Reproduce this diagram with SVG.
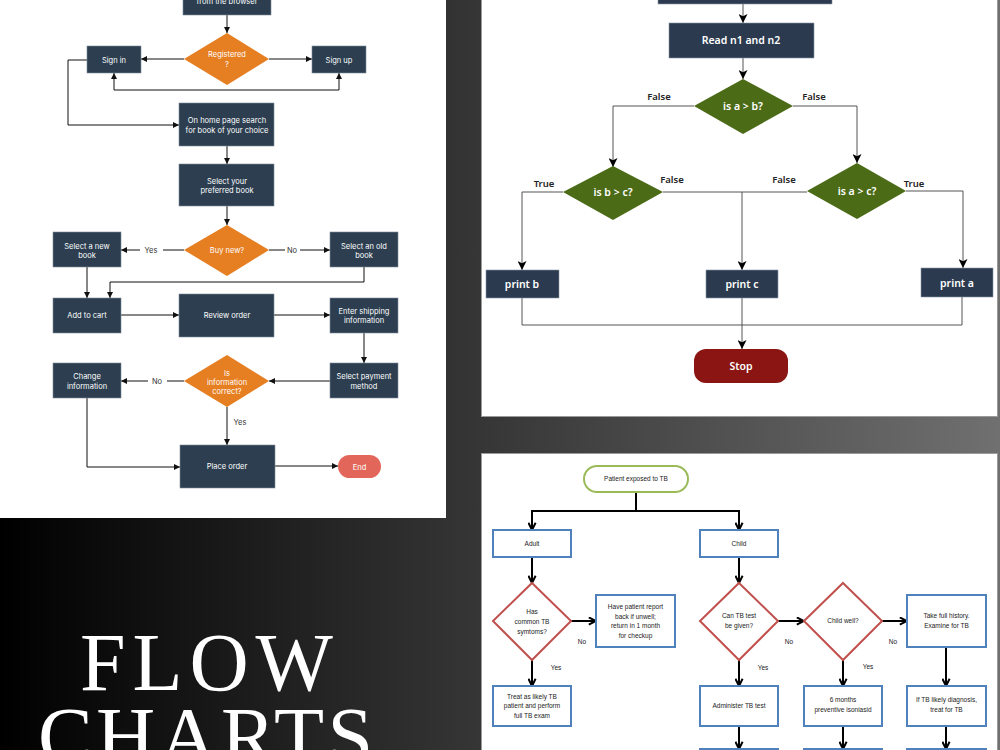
<svg xmlns="http://www.w3.org/2000/svg" width="1000" height="750" viewBox="0 0 1000 750">
<defs>
<linearGradient id="bg" x1="0" y1="0" x2="1" y2="0">
<stop offset="0" stop-color="#000"/>
<stop offset="1" stop-color="#707070"/>
</linearGradient>
<marker id="aL" viewBox="0 0 10 10" refX="10" refY="5" markerWidth="6" markerHeight="6" markerUnits="userSpaceOnUse" orient="auto"><path d="M0,0 L10,5 L0,10 z" fill="#111"/></marker>
<marker id="aR" viewBox="0 0 10 10" refX="10" refY="5" markerWidth="9" markerHeight="9" markerUnits="userSpaceOnUse" orient="auto"><path d="M0,0 L10,5 L0,10 L2.5,5 z" fill="#000"/></marker>
<marker id="aB" viewBox="0 0 10 10" refX="9" refY="5" markerWidth="9" markerHeight="9" markerUnits="userSpaceOnUse" orient="auto"><path d="M1,1 L9,5 L1,9" fill="none" stroke="#000" stroke-width="2.2"/></marker>
<style>
.lb{fill:#2c3e50;stroke:#7f8c9b;stroke-width:0.6}
.ld{fill:#e67e22}
.lt{font-family:Inter,"Liberation Sans",sans-serif;font-size:7.5px;fill:#fff;text-anchor:middle}
.ll{stroke:#111;stroke-width:1;fill:none}
.llab{font-family:Inter,"Liberation Sans",sans-serif;font-size:7.5px;fill:#333;text-anchor:middle}
.rb{fill:#2b3a4f;stroke:#8a96a6;stroke-width:0.6}
.rd{fill:#4b6b17}
.rt{font-family:"Noto Sans","Liberation Sans",sans-serif;font-size:10.5px;font-weight:600;fill:#fff;text-anchor:middle}
.rl{stroke:#555;stroke-width:1;fill:none}
.rlab{font-family:"Noto Sans","Liberation Sans",sans-serif;font-size:9.5px;font-weight:600;fill:#222;text-anchor:middle}
.bb{fill:#fff;stroke:#4f81bd;stroke-width:2}
.bd{fill:#fff;stroke:#c0504d;stroke-width:2}
.bt{font-family:"Liberation Sans",sans-serif;font-size:6.5px;fill:#222;text-anchor:middle}
.bl{stroke:#000;stroke-width:2;fill:none}
.big{font-family:"Liberation Serif",serif;font-size:82px;fill:#fff}
</style>
</defs>
<rect x="0" y="0" width="1000" height="750" fill="url(#bg)"/>
<rect x="0" y="0" width="446" height="518" fill="#fff"/>
<rect x="481.5" y="-1" width="516" height="417.5" fill="#fff" stroke="#9a9a9a" stroke-width="1"/>
<rect x="481.5" y="453.5" width="516" height="300" fill="#fff" stroke="#9a9a9a" stroke-width="1"/>

<text class="big" x="80" y="690" textLength="253" lengthAdjust="spacing">FLOW</text>
<text class="big" x="38" y="764" textLength="335" lengthAdjust="spacing">CHARTS</text>

<!-- Left panel connectors -->
<g id="left-connectors">
<path class="ll" d="M227,15 V33" marker-end="url(#aL)"/>
<path class="ll" d="M184,59 H141" marker-end="url(#aL)"/>
<path class="ll" d="M269,59 H312" marker-end="url(#aL)"/>
<path class="ll" d="M339,90 H114 V73" marker-end="url(#aL)"/>
<path class="ll" d="M339,90 V73" marker-end="url(#aL)"/>
<path class="ll" d="M87,60 H68 V125 H179" marker-end="url(#aL)"/>
<path class="ll" d="M227,146 V164" marker-end="url(#aL)"/>
<path class="ll" d="M227,206 V225" marker-end="url(#aL)"/>
<path class="ll" d="M184,250 H163"/>
<path class="ll" d="M140,250 H121" marker-end="url(#aL)"/>
<text class="llab" x="151" y="252.5">Yes</text>
<path class="ll" d="M269,250 H285"/>
<path class="ll" d="M300,250 H330" marker-end="url(#aL)"/>
<text class="llab" x="292" y="252.5">No</text>
<path class="ll" d="M87,267 V298" marker-end="url(#aL)"/>
<path class="ll" d="M364,267 V282 H110 V298" marker-end="url(#aL)"/>
<path class="ll" d="M121,315 H179" marker-end="url(#aL)"/>
<path class="ll" d="M274,315 H330" marker-end="url(#aL)"/>
<path class="ll" d="M364,333 V363" marker-end="url(#aL)"/>
<path class="ll" d="M330,381 H269" marker-end="url(#aL)"/>
<path class="ll" d="M184,381 H167"/>
<path class="ll" d="M148,381 H121" marker-end="url(#aL)"/>
<text class="llab" x="157" y="383.5">No</text>
<path class="ll" d="M227,407 V445" marker-end="url(#aL)"/>
<text class="llab" x="240" y="424.5">Yes</text>
<path class="ll" d="M87,398 V467 H180" marker-end="url(#aL)"/>
<path class="ll" d="M275,466 H338" marker-end="url(#aL)"/>
</g>

<!-- Left panel nodes -->
<g id="l-browser"><rect class="lb" x="183" y="-20" width="88" height="35"/><text class="lt" x="227" y="4">from the browser</text></g>
<g id="l-registered"><polygon class="ld" points="227,33 269,59 227,85 184,59"/><text class="lt" x="227" y="57">Registered</text><text class="lt" x="227" y="67">?</text></g>
<g id="l-signin"><rect class="lb" x="87" y="46" width="54" height="27"/><text class="lt" x="114" y="62.5">Sign in</text></g>
<g id="l-signup"><rect class="lb" x="312" y="46" width="54" height="27"/><text class="lt" x="339" y="62.5">Sign up</text></g>
<g id="l-home"><rect class="lb" x="179" y="103" width="95" height="43"/><text class="lt" x="227" y="123">On home page search</text><text class="lt" x="227" y="133">for book of your choice</text></g>
<g id="l-select"><rect class="lb" x="179" y="164" width="95" height="42"/><text class="lt" x="227" y="183.5">Select your</text><text class="lt" x="227" y="192.5">preferred book</text></g>
<g id="l-buynew"><polygon class="ld" points="227,225 269,250 227,276 184,250"/><text class="lt" x="227" y="252.5">Buy new?</text></g>
<g id="l-newbook"><rect class="lb" x="53" y="232" width="68" height="35"/><text class="lt" x="87" y="248.5">Select a new</text><text class="lt" x="87" y="258">book</text></g>
<g id="l-oldbook"><rect class="lb" x="330" y="232" width="68" height="35"/><text class="lt" x="364" y="248.5">Select an old</text><text class="lt" x="364" y="258">book</text></g>
<g id="l-cart"><rect class="lb" x="53" y="298" width="68" height="35"/><text class="lt" x="87" y="317.5">Add to cart</text></g>
<g id="l-review"><rect class="lb" x="179" y="294" width="95" height="43"/><text class="lt" x="227" y="317.5">Review order</text></g>
<g id="l-shipping"><rect class="lb" x="330" y="298" width="68" height="35"/><text class="lt" x="364" y="313.5">Enter shipping</text><text class="lt" x="364" y="322.5">information</text></g>
<g id="l-payment"><rect class="lb" x="330" y="363" width="68" height="35"/><text class="lt" x="364" y="378.5">Select payment</text><text class="lt" x="364" y="388.5">method</text></g>
<g id="l-correct"><polygon class="ld" points="227,355 269,381 227,407 184,381"/><text class="lt" x="227" y="375.5">Is</text><text class="lt" x="227" y="384.5">information</text><text class="lt" x="227" y="393.5">correct?</text></g>
<g id="l-change"><rect class="lb" x="53" y="363" width="68" height="35"/><text class="lt" x="87" y="378.5">Change</text><text class="lt" x="87" y="388.5">information</text></g>
<g id="l-place"><rect class="lb" x="180" y="445" width="95" height="43"/><text class="lt" x="227" y="468.5">Place order</text></g>
<g id="l-end"><rect x="338" y="455" width="43" height="23" rx="11.5" fill="#e2675a"/><text class="lt" x="359.5" y="469.5">End</text></g>

<!-- Right top connectors -->
<g id="rt-connectors">
<path class="rl" d="M743,4 V23" marker-end="url(#aR)"/>
<path class="rl" d="M743,58 V79" marker-end="url(#aR)"/>
<path class="rl" d="M694,106 H613 V167" marker-end="url(#aR)"/>
<path class="rl" d="M793,106 H857 V163" marker-end="url(#aR)"/>
<path class="rl" d="M563,192 H522 V270" marker-end="url(#aR)"/>
<path class="rl" d="M663,192 H807"/>
<path class="rl" d="M742,192 V270" marker-end="url(#aR)"/>
<path class="rl" d="M906,191 H963 V268" marker-end="url(#aR)"/>
<path class="rl" d="M522,298 V325 H962 V297"/>
<path class="rl" d="M742,298 V349" marker-end="url(#aR)"/>
<text class="rlab" x="659" y="100">False</text>
<text class="rlab" x="814" y="100">False</text>
<text class="rlab" x="544" y="187">True</text>
<text class="rlab" x="672" y="183">False</text>
<text class="rlab" x="784" y="183">False</text>
<text class="rlab" x="914" y="187">True</text>
</g>

<!-- Right top nodes -->
<g id="r-top"><rect class="rb" x="658" y="-20" width="174" height="24"/></g>
<g id="r-read"><rect class="rb" x="669" y="23" width="145" height="35"/><text class="rt" x="741" y="44">Read n1 and n2</text></g>
<g id="r-ab"><polygon class="rd" points="743,79 793,106 743,134 694,106"/><text class="rt" x="743" y="110">is a &gt; b?</text></g>
<g id="r-bc"><polygon class="rd" points="613,166 663,192 613,220 563,192"/><text class="rt" x="613" y="196">is b &gt; c?</text></g>
<g id="r-ac"><polygon class="rd" points="857,163 906,191 857,219 807,191"/><text class="rt" x="857" y="195">is a &gt; c?</text></g>
<g id="r-printb"><rect class="rb" x="486" y="270" width="73" height="28"/><text class="rt" x="522" y="288">print b</text></g>
<g id="r-printc"><rect class="rb" x="706" y="270" width="72" height="28"/><text class="rt" x="742" y="288">print c</text></g>
<g id="r-printa"><rect class="rb" x="921" y="268" width="72" height="29"/><text class="rt" x="957" y="287">print a</text></g>
<g id="r-stop"><rect x="694" y="349" width="94" height="34" rx="12" fill="#8a1512"/><text class="rt" x="741" y="370">Stop</text></g>

<!-- Bottom right connectors -->
<g id="b-connectors">
<path class="bl" d="M636,492 V511"/>
<path class="bl" d="M531,511 H740"/>
<path class="bl" d="M532,511 V530" marker-end="url(#aB)"/>
<path class="bl" d="M739,511 V530" marker-end="url(#aB)"/>
<path class="bl" d="M532,557 V583" marker-end="url(#aB)"/>
<path class="bl" d="M571,621 H596" marker-end="url(#aB)"/>
<path class="bl" d="M532,660 V686" marker-end="url(#aB)"/>
<path class="bl" d="M739,557 V583" marker-end="url(#aB)"/>
<path class="bl" d="M778,621 H804" marker-end="url(#aB)"/>
<path class="bl" d="M882,621 H907" marker-end="url(#aB)"/>
<path class="bl" d="M739,660 V686" marker-end="url(#aB)"/>
<path class="bl" d="M843,660 V686" marker-end="url(#aB)"/>
<path class="bl" d="M946,647 V686" marker-end="url(#aB)"/>
<path class="bl" d="M739,726 V749" marker-end="url(#aB)"/>
<path class="bl" d="M843,726 V749" marker-end="url(#aB)"/>
<path class="bl" d="M946,726 V749" marker-end="url(#aB)"/>
<text class="bt" x="582" y="644">No</text>
<text class="bt" x="556" y="670">Yes</text>
<text class="bt" x="789" y="644">No</text>
<text class="bt" x="763" y="670">Yes</text>
<text class="bt" x="893" y="644">No</text>
<text class="bt" x="868" y="669">Yes</text>
</g>

<!-- Bottom right nodes -->
<g id="b-start"><rect x="584" y="466" width="104" height="26" rx="13" fill="#fff" stroke="#9bbb59" stroke-width="2"/><text class="bt" x="636" y="481">Patient exposed to TB</text></g>
<g id="b-adult"><rect class="bb" x="493" y="530" width="78" height="27"/><text class="bt" x="532" y="545.5">Adult</text></g>
<g id="b-child"><rect class="bb" x="700" y="530" width="78" height="27"/><text class="bt" x="739" y="545.5">Child</text></g>
<g id="b-symptoms"><polygon class="bd" points="532,583 571,621 532,660 493,621"/><text class="bt" x="532" y="614">Has</text><text class="bt" x="532" y="624">common TB</text><text class="bt" x="532" y="634">symtoms?</text></g>
<g id="b-report"><rect class="bb" x="596" y="595" width="79" height="52"/><text class="bt" x="635.5" y="609">Have patient report</text><text class="bt" x="635.5" y="618.5">back if unwell;</text><text class="bt" x="635.5" y="628">return in 1 month</text><text class="bt" x="635.5" y="637.5">for checkup</text></g>
<g id="b-treat"><rect class="bb" x="493" y="686" width="78" height="40"/><text class="bt" x="532" y="698.5">Treat as likely TB</text><text class="bt" x="532" y="708">patient and perform</text><text class="bt" x="532" y="717.5">full TB exam</text></g>
<g id="b-cantest"><polygon class="bd" points="739,583 778,621 739,660 700,621"/><text class="bt" x="739" y="618">Can TB test</text><text class="bt" x="739" y="628">be given?</text></g>
<g id="b-childwell"><polygon class="bd" points="843,583 882,621 843,660 804,621"/><text class="bt" x="843" y="623">Child well?</text></g>
<g id="b-history"><rect class="bb" x="907" y="595" width="79" height="52"/><text class="bt" x="946.5" y="618">Take full history.</text><text class="bt" x="946.5" y="628">Examine for TB</text></g>
<g id="b-administer"><rect class="bb" x="700" y="686" width="78" height="40"/><text class="bt" x="739" y="708">Administer TB test</text></g>
<g id="b-isoniazid"><rect class="bb" x="804" y="686" width="78" height="40"/><text class="bt" x="843" y="702">6 months</text><text class="bt" x="843" y="712">preventive isoniasid</text></g>
<g id="b-treattb"><rect class="bb" x="907" y="686" width="79" height="40"/><text class="bt" x="946.5" y="702">If TB likely diagnosis,</text><text class="bt" x="946.5" y="712">treat for TB</text></g>
<g id="b-next1"><rect class="bb" x="700" y="749" width="78" height="20"/></g>
<g id="b-next2"><rect class="bb" x="804" y="749" width="78" height="20"/></g>
<g id="b-next3"><rect class="bb" x="907" y="749" width="79" height="20"/></g>
</svg>
